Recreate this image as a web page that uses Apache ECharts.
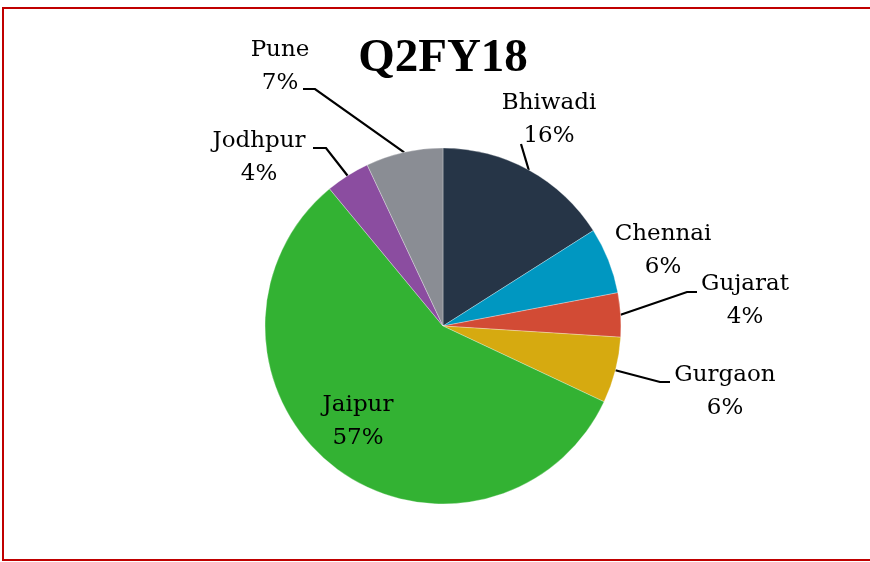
<!DOCTYPE html>
<html style="height:100%;">
<head>
    <meta charset="utf-8">
    <title>Q2FY18</title>
    <script src="https://cdn.jsdelivr.net/npm/echarts@6/dist/echarts.min.js"></script>
</head>
<body style="height: 100%; margin: 0;">
    <div id="main" style="width: 870px; height: 562px;"></div>
    <script type="text/javascript">
    // slice data, clockwise from 12 o'clock
    var cities = ['Bhiwadi', 'Chennai', 'Gujarat', 'Gurgaon', 'Jaipur', 'Jodhpur', 'Pune'];
    var shares = [16, 6, 4, 6, 57, 4, 7];
    var colors = ['#263547', '#0097c1', '#d24b35', '#d6aa10', '#33b233', '#8b4da0', '#8a8d94'];

    // where each label sits (text centre) and the leader line elbow / end
    var spots = {
        Bhiwadi: { c: [549, 120], line: [[521, 144]] },
        Chennai: { c: [663, 251], line: null },
        Gujarat: { c: [745, 301], line: [[687, 292], [697, 292]] },
        Gurgaon: { c: [725, 392], line: [[660, 382], [670, 382]] },
        Jaipur:  { c: [358, 422], line: null },
        Jodhpur: { c: [259, 158], line: [[326, 148], [313, 148]] },
        Pune:    { c: [280, 67],  line: [[315, 89], [303, 89]] }
    };

    var myChart = echarts.init(document.getElementById('main'));
    myChart.setOption({
        animation: false,
        title: {
            text: 'Q2FY18',
            left: 438,
            top: 30,
            textAlign: 'center',
            textStyle: {
                fontFamily: 'Liberation Serif',
                fontWeight: 'bold',
                fontSize: 47,
                color: '#000'
            }
        },
        graphic: [{
            type: 'rect',
            shape: { x: 3, y: 8, width: 880, height: 552 },
            style: { fill: 'none', stroke: '#c00000', lineWidth: 2 },
            silent: true
        }],
        series: [{
            type: 'pie',
            center: [443, 326],
            radius: 178,
            startAngle: 90,
            clockwise: true,
            itemStyle: { borderColor: '#fff', borderWidth: 0.3 },
            label: {
                show: true,
                formatter: '{b}\n{c}%',
                fontFamily: 'DejaVu Serif',
                fontSize: 23,
                lineHeight: 33,
                color: '#000',
                align: 'center'
            },
            labelLine: {
                show: true,
                lineStyle: { color: '#000', width: 2.2 }
            },
            labelLayout: function (params) {
                var s = spots[cities[params.dataIndex]];
                var out = { x: s.c[0], y: s.c[1], align: 'center', verticalAlign: 'middle' };
                if (s.line && params.labelLinePoints) {
                    out.labelLinePoints = [params.labelLinePoints[0]].concat(s.line);
                }
                return out;
            },
            data: cities.map(function (name, i) {
                var item = { name: name, value: shares[i], itemStyle: { color: colors[i] } };
                if (!spots[name].line) {
                    item.labelLine = { show: false };
                }
                return item;
            })
        }]
    });
</script>
</body>
</html>
